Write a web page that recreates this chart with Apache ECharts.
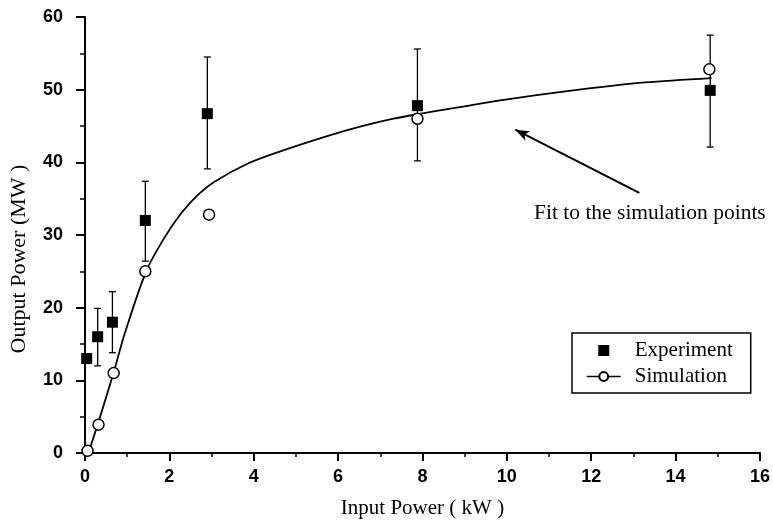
<!DOCTYPE html>
<html>
<head>
<meta charset="utf-8">
<script src="https://cdn.jsdelivr.net/npm/echarts@6/dist/echarts.min.js"></script>
<style>html,body{margin:0;padding:0;background:#fff}#c{width:773px;height:524px}</style>
</head>
<body>
<div id="c"></div>
<script>
// Experiment (filled squares with error bars)
var expX = [0.04, 0.3, 0.65, 1.43, 2.9, 7.88, 14.82];
var expY = [13, 16, 18, 32, 46.7, 47.8, 49.9];
var expHigh = [null, 19.9, 22.2, 37.4, 54.5, 55.6, 57.5];
var expLow = [null, 12.0, 13.8, 26.4, 39.1, 40.2, 42.1];
// Simulation (open circles)
var simX = [0.06, 0.32, 0.68, 1.43, 2.94, 7.88, 14.8];
var simY = [0.3, 3.9, 11, 25, 32.8, 46, 52.8];
// Fit curve to the simulation points
var fitX = [0.08, 0.31, 0.67, 0.94, 1.45, 1.88, 2.28, 2.67, 3.06, 3.85, 4.63, 5.74, 6.52, 7.31, 7.86, 8.88, 9.8, 11.71, 13.28, 14.85];
var fitY = [0, 4.1, 10.9, 16.4, 25.0, 29.6, 33.0, 35.5, 37.3, 39.8, 41.5, 43.6, 44.9, 46.0, 46.6, 47.6, 48.5, 50.0, 51.0, 51.6];
// Axis ticks
var xTicks = [0, 2, 4, 6, 8, 10, 12, 14, 16];
var yTicks = [0, 10, 20, 30, 40, 50, 60];
// Annotation arrow (tail -> head, data coords)
var arrowTail = [13.14, 35.8];
var arrowHead = [10.2, 44.5];

var expData = expX.map(function (x, i) { return [x, expY[i]]; });
var errData = expX.map(function (x, i) { return [x, expLow[i], expHigh[i]]; }).filter(function (d) { return d[2] != null; });
var simData = simX.map(function (x, i) { return [x, simY[i]]; });
var fitData = fitX.map(function (x, i) { return [x, fitY[i]]; });

var chart = echarts.init(document.getElementById('c'));
var axisFont = { fontFamily: 'Liberation Sans', fontSize: 18, fontWeight: 'bold', color: '#000' };
var nameFont = { fontFamily: 'Liberation Serif', fontSize: 21, color: '#000' };
chart.setOption({
  animation: false,
  backgroundColor: '#fff',
  grid: { left: 83, right: 11, top: 17, bottom: 67 },
  xAxis: {
    type: 'value', min: xTicks[0], max: xTicks[xTicks.length - 1], interval: 2,
    name: 'Input Power ( kW )', nameLocation: 'middle', nameGap: 45, nameTextStyle: nameFont,
    axisLine: { lineStyle: { color: '#000', width: 2 } },
    axisTick: { length: 8, lineStyle: { color: '#000', width: 2 } },
    minorTick: { show: true, splitNumber: 2, length: 4, lineStyle: { color: '#000', width: 1.5 } },
    splitLine: { show: false },
    axisLabel: Object.assign({ margin: 15 }, axisFont)
  },
  yAxis: {
    type: 'value', min: yTicks[0], max: yTicks[yTicks.length - 1], interval: 10,
    name: 'Output Power (MW )', nameLocation: 'middle', nameGap: 55,
    nameTextStyle: Object.assign({ padding: [0, 48, 0, 0] }, nameFont, { fontSize: 22 }),
    axisLine: { lineStyle: { color: '#000', width: 2 } },
    axisTick: { length: 9, lineStyle: { color: '#000', width: 2 } },
    minorTick: { show: true, splitNumber: 2, length: 5, lineStyle: { color: '#000', width: 1.5 } },
    splitLine: { show: false },
    axisLabel: Object.assign({ margin: 22 }, axisFont)
  },
  legend: {
    orient: 'vertical', left: 572, top: 333,
    padding: [7, 18, 6, 14], itemGap: 5,
    borderColor: '#000', borderWidth: 1.5,
    itemWidth: 34, itemHeight: 11,
    textStyle: { fontFamily: 'Liberation Serif', fontSize: 21, color: '#000', padding: [0, 0, 0, 9] },
    data: [
      { name: 'Experiment', icon: 'path://M0,0L10,0L10,10L0,10Z', itemStyle: { color: '#000', opacity: 1 } },
      { name: 'Simulation', lineStyle: { color: '#000', width: 1.5, opacity: 1 } }
    ]
  },
  series: [
    {
      name: 'fit', type: 'line', data: fitData, smooth: 0.3, showSymbol: false, symbol: 'none',
      lineStyle: { color: '#000', width: 1.8 }, z: 2,
      markLine: {
        silent: true, symbol: ['none', 'arrow'], symbolSize: [8, 14],
        lineStyle: { color: '#000', width: 2, type: 'solid' },
        label: { show: false },
        data: [[{ coord: arrowTail }, { coord: arrowHead }]]
      }
    },
    {
      name: 'errbars', type: 'custom', data: errData, z: 3,
      renderItem: function (params, api) {
        var x = api.value(0);
        var lo = api.coord([x, api.value(1)]);
        var hi = api.coord([x, api.value(2)]);
        var cw = 3.5;
        var st = { stroke: '#000', lineWidth: 1.3 };
        return { type: 'group', children: [
          { type: 'line', shape: { x1: lo[0], y1: lo[1], x2: hi[0], y2: hi[1] }, style: st },
          { type: 'line', shape: { x1: hi[0] - cw, y1: hi[1], x2: hi[0] + cw, y2: hi[1] }, style: st },
          { type: 'line', shape: { x1: lo[0] - cw, y1: lo[1], x2: lo[0] + cw, y2: lo[1] }, style: st }
        ] };
      }
    },
    {
      name: 'Experiment', type: 'scatter', data: expData, symbol: 'rect', symbolSize: 11,
      itemStyle: { color: '#000', opacity: 1 }, z: 5
    },
    {
      name: 'Simulation', type: 'line', data: simData, symbol: 'circle', symbolSize: 11, showSymbol: true,
      lineStyle: { width: 0, opacity: 0, color: '#000' },
      itemStyle: { color: '#fff', borderColor: '#000', borderWidth: 1.5 }, z: 6
    }
  ],
  graphic: [
    { type: 'text', left: 534, top: 202, style: { text: 'Fit to the simulation points', font: '21.5px "Liberation Serif"', fill: '#000' } }
  ]
});
</script>
</body>
</html>
